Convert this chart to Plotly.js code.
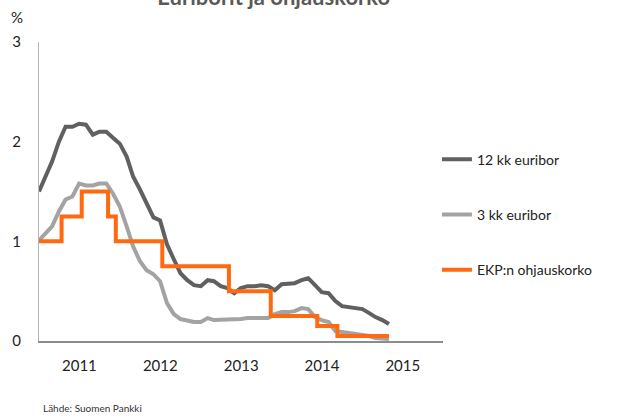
<!DOCTYPE html>
<html>
<head>
<meta charset="utf-8">
<script src="https://cdn.plot.ly/plotly-3.0.1.min.js"></script>
<style>html,body{margin:0;padding:0;background:#fff;}#chart{width:622px;height:416px;}</style>
</head>
<body>
<div id="chart"></div>
<script>
// Monthly dates (Jan 2011 .. May 2015)
const months = [
  "2011-01-01","2011-02-01","2011-03-01","2011-04-01","2011-05-01","2011-06-01","2011-07-01","2011-08-01","2011-09-01","2011-10-01","2011-11-01","2011-12-01",
  "2012-01-01","2012-02-01","2012-03-01","2012-04-01","2012-05-01","2012-06-01","2012-07-01","2012-08-01","2012-09-01","2012-10-01","2012-11-01","2012-12-01",
  "2013-01-01","2013-02-01","2013-03-01","2013-04-01","2013-05-01","2013-06-01","2013-07-01","2013-08-01","2013-09-01","2013-10-01","2013-11-01","2013-12-01",
  "2014-01-01","2014-02-01","2014-03-01","2014-04-01","2014-05-01","2014-06-01","2014-07-01","2014-08-01","2014-09-01","2014-10-01","2014-11-01","2014-12-01",
  "2015-01-01","2015-02-01","2015-03-01","2015-04-01","2015-05-01"
];
const euribor12 = [
  1.50,1.65,1.80,2.00,2.15,2.15,2.18,2.17,2.07,2.10,2.10,2.04,
  1.98,1.85,1.65,1.52,1.38,1.24,1.21,0.97,0.82,0.68,0.61,0.56,
  0.55,0.61,0.60,0.55,0.53,0.48,0.53,0.55,0.55,0.56,0.55,0.51,
  0.57,0.58,0.58,0.61,0.63,0.56,0.49,0.48,0.40,0.35,0.34,0.33,
  0.32,0.28,0.24,0.21,0.17
];
const euribor3 = [
  1.01,1.08,1.15,1.30,1.42,1.45,1.58,1.56,1.56,1.58,1.58,1.48,
  1.35,1.15,0.95,0.80,0.71,0.67,0.60,0.38,0.27,0.22,0.20,0.19,
  0.19,0.23,0.21,0.21,0.21,0.21,0.22,0.23,0.23,0.23,0.23,0.27,
  0.29,0.29,0.30,0.33,0.32,0.24,0.21,0.19,0.10,0.09,0.08,0.08,
  0.06,0.05,0.03,0.02,0.02
];
// ECB main refinancing rate (step changes)
const ecbDates = ["2011-01-01","2011-04-13","2011-07-13","2011-11-09","2011-12-14","2012-07-11","2013-05-08","2013-11-13","2014-06-11","2014-09-10","2015-05-01"];
const ecbRate  = [1.00,1.25,1.50,1.25,1.00,0.75,0.50,0.25,0.15,0.05,0.05];

const seriesNames = ["12 kk euribor","3 kk euribor","EKP:n ohjauskorko"];
const yTicks = [0,1,2,3];
const xRange = ["2011-01-01","2015-12-31"];

const FONT = "Lato, 'Open Sans', sans-serif";

const traces = [
  {x: months, y: euribor12, name: seriesNames[0], type: "scatter", mode: "lines",
   line: {color: "#606060", width: 4}, legendgroup: "a"},
  {x: months, y: euribor3, name: seriesNames[1], type: "scatter", mode: "lines",
   line: {color: "#a3a3a3", width: 4}, legendgroup: "b"},
  {x: ecbDates, y: ecbRate, name: seriesNames[2], type: "scatter", mode: "lines",
   line: {color: "#ff6a10", width: 4, shape: "hv"}, legendgroup: "c"}
];

const layout = {
  width: 622, height: 416,
  margin: {l: 39, r: 179, t: 42, b: 75},
  paper_bgcolor: "#fff", plot_bgcolor: "#fff",
  font: {family: FONT, color: "#333", size: 15},
  title: {text: "<b>Euriborit ja ohjauskorko</b>", font: {family: FONT, size: 22, color: "#595959"},
          x: 0.44, xanchor: "center", y: 0.987, yanchor: "bottom", yref: "container"},
  showlegend: true,
  legend: {x: 0.985, xanchor: "left", y: 0.66, yanchor: "top", traceorder: "grouped",
           tracegroupgap: 34, font: {family: FONT, size: 14, color: "#222"}, bgcolor: "rgba(0,0,0,0)"},
  xaxis: {type: "date", range: xRange, tick0: "2011-01-01", dtick: "M12", ticklabelmode: "period",
          tickformat: "%Y", showgrid: false, zeroline: false, showline: true, linecolor: "#8c8c8c", linewidth: 2,
          ticks: "", ticklabelstandoff: 10, tickfont: {family: FONT, size: 15, color: "#222"}, fixedrange: true},
  yaxis: {range: [0, 3], tickvals: yTicks, showgrid: false, zeroline: false, showline: true,
          linecolor: "#b5b5b5", linewidth: 1, ticks: "", ticklabelstandoff: 14,
          tickfont: {family: FONT, size: 15, color: "#222"}, fixedrange: true},
  annotations: [
    {text: "%", xref: "paper", yref: "paper", x: -0.055, y: 1.083, xanchor: "center", yanchor: "middle",
     showarrow: false, font: {family: FONT, size: 15, color: "#222"}},
    {text: "Lähde: Suomen Pankki", xref: "paper", yref: "paper", x: 0.005, y: -0.223, xanchor: "left", yanchor: "middle",
     showarrow: false, font: {family: FONT, size: 10, color: "#333"}}
  ]
};

Plotly.newPlot("chart", traces, layout, {displayModeBar: false, staticPlot: true});
</script>
</body>
</html>
